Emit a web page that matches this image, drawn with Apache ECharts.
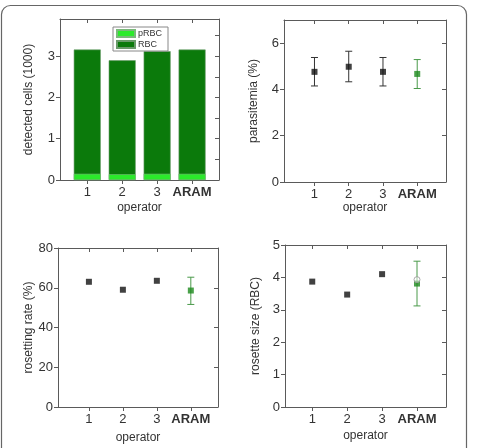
<!DOCTYPE html>
<html>
<head>
<meta charset="utf-8">
<script src="https://cdn.jsdelivr.net/npm/echarts@6/dist/echarts.min.js"></script>
<style>
  html, body { margin: 0; padding: 0; background: #fff; }
  #chart { width: 477px; height: 448px; }
</style>
</head>
<body>
<div id="chart"></div>
<script>
// categories on the x axis (drawn at x = 1..4)
const operators = ['1', '2', '3', 'ARAM'];
const opX = [1, 2, 3, 4];

// panel 1: detected cells (1000)
const pRBC = [0.15, 0.14, 0.15, 0.15];
const RBC = [3.01, 2.76, 2.97, 3.01];

// panel 2: parasitemia (%)
const parasitemia = [4.76, 4.98, 4.76, 4.67];
const parasitemiaLow = [4.15, 4.33, 4.15, 4.04];
const parasitemiaHigh = [5.38, 5.65, 5.38, 5.29];

// panel 3: rosetting rate (%)
const rosRate = [63, 59, 63.5, 58.6];
const rosRateLow = [null, null, null, 51.6];
const rosRateHigh = [null, null, null, 65.3];

// panel 4: rosette size (RBC)
const rosSize = [3.87, 3.47, 4.1, 3.81];
const rosSizeLow = [null, null, null, 3.12];
const rosSizeHigh = [null, null, null, 4.5];
const rosSizeOpen = [null, null, null, 3.93];

// tick labels
const yTicks1 = [0, 1, 2, 3];
const yMinor1 = [0, 0.5, 1, 1.5, 2, 2.5, 3, 3.5];
const yTicks2 = [0, 2, 4, 6];
const yTicks3 = [0, 20, 40, 60, 80];
const yTicks4 = [0, 1, 2, 3, 4, 5];

const FONT = 'Liberation Sans';
const LINE = '#5a5a5a';
const TXT = '#333';
const BLACK = '#111';
const GREEN = '#1d8a1d';
const ERRGREEN = '#4a9a4a';

let chart = echarts.init(document.getElementById('chart'));

let grids = [
  {left: 60, top: 19, width: 159, height: 161},
  {left: 284, top: 20, width: 162, height: 162},
  {left: 58, top: 248, width: 160, height: 159},
  {left: 285, top: 245, width: 161, height: 162}
];
let xRanges = [[0.22, 4.77], [0.11, 4.84], [0.09, 4.8], [0.22, 4.83]];
let yRanges = [[0, 3.9], [0, 7], [0, 80], [0, 5]];
let yTicks = [yTicks1, yTicks2, yTicks3, yTicks4];
let yRightTicks = [yMinor1, yTicks2, yTicks3, yTicks4];
let yNames = ['detected cells (1000)', 'parasitemia (%)', 'rosetting rate (%)', 'rosette size (RBC)'];
let yGaps = [25, 24, 22, 23];
let xGaps = [22, 17, 25, 23];

let xAxis = [];
let yAxis = [];
for (let i = 0; i < 4; i++) {
  xAxis.push({
    type: 'value', gridIndex: i, position: 'bottom',
    min: xRanges[i][0], max: xRanges[i][1],
    name: 'operator', nameLocation: 'middle', nameGap: xGaps[i],
    nameTextStyle: {color: TXT, fontFamily: FONT, fontSize: 12},
    axisLine: {show: true, onZero: false, lineStyle: {color: LINE, width: 1}},
    axisTick: {show: true, length: 4, customValues: opX, lineStyle: {color: LINE}},
    axisLabel: {
      customValues: opX, margin: 6, color: TXT, fontFamily: FONT, fontSize: 13,
      formatter: function (v) {
        let s = operators[Math.round(v) - 1];
        return s === 'ARAM' ? '{b|' + s + '}' : s;
      },
      rich: {b: {fontWeight: 'bold', fontFamily: FONT, fontSize: 13, color: TXT}}
    },
    splitLine: {show: false}
  });
  xAxis.push({
    type: 'value', gridIndex: i, position: 'top',
    min: xRanges[i][0], max: xRanges[i][1],
    axisLine: {show: true, onZero: false, lineStyle: {color: LINE, width: 1}},
    axisTick: {show: true, inside: true, length: 4, customValues: opX, lineStyle: {color: LINE}},
    axisLabel: {show: false},
    splitLine: {show: false}
  });
  yAxis.push({
    type: 'value', gridIndex: i, position: 'left',
    min: yRanges[i][0], max: yRanges[i][1],
    name: yNames[i], nameLocation: 'middle', nameGap: yGaps[i],
    nameTextStyle: {color: TXT, fontFamily: FONT, fontSize: 12},
    axisLine: {show: true, onZero: false, lineStyle: {color: LINE, width: 1}},
    axisTick: {show: true, length: 4, customValues: yTicks[i], lineStyle: {color: LINE}},
    axisLabel: {customValues: yTicks[i], margin: 5, color: TXT, fontFamily: FONT, fontSize: 13},
    splitLine: {show: false}
  });
  yAxis.push({
    type: 'value', gridIndex: i, position: 'right',
    min: yRanges[i][0], max: yRanges[i][1],
    axisLine: {show: true, onZero: false, lineStyle: {color: LINE, width: 1}},
    axisTick: {show: true, inside: true, length: 4, customValues: yRightTicks[i], lineStyle: {color: LINE}},
    axisLabel: {show: false},
    splitLine: {show: false}
  });
}

// points: black for operators, green for ARAM
function pointData(vals) {
  let res = [];
  for (let i = 0; i < vals.length; i++) {
    res.push({value: [opX[i], vals[i]], itemStyle: {color: i === 3 ? GREEN : BLACK}});
  }
  return res;
}
function errData(low, high) {
  let res = [];
  for (let i = 0; i < low.length; i++) {
    if (low[i] == null) continue;
    res.push([opX[i], low[i], high[i], i === 3 ? 1 : 0]);
  }
  return res;
}
function errSeries(panel, low, high) {
  return {
    type: 'custom',
    xAxisIndex: panel * 2, yAxisIndex: panel * 2,
    data: errData(low, high),
    encode: {x: 0, y: [1, 2]},
    z: 3,
    renderItem: function (params, api) {
      let x = api.value(0);
      let lo = api.coord([x, api.value(1)]);
      let hi = api.coord([x, api.value(2)]);
      let color = api.value(3) === 1 ? ERRGREEN : '#333';
      let w = 3.5;
      let style = {stroke: color, lineWidth: 1};
      return {
        type: 'group',
        children: [
          {type: 'line', shape: {x1: lo[0], y1: lo[1], x2: hi[0], y2: hi[1]}, style: style},
          {type: 'line', shape: {x1: lo[0] - w, y1: lo[1], x2: lo[0] + w, y2: lo[1]}, style: style},
          {type: 'line', shape: {x1: hi[0] - w, y1: hi[1], x2: hi[0] + w, y2: hi[1]}, style: style}
        ]
      };
    }
  };
}
function pointSeries(panel, vals) {
  return {
    type: 'scatter',
    xAxisIndex: panel * 2, yAxisIndex: panel * 2,
    symbol: 'rect', symbolSize: 6, z: 4,
    data: pointData(vals)
  };
}

let openPts = [];
for (let i = 0; i < rosSizeOpen.length; i++) {
  if (rosSizeOpen[i] != null) openPts.push([opX[i], rosSizeOpen[i]]);
}

// the dark bar reaches pRBC + RBC, the pRBC bar is laid over its foot
let totals = RBC.map((v, i) => [opX[i], +(v + pRBC[i]).toFixed(3)]);

let option = {
  animation: false,
  backgroundColor: '#fff',
  textStyle: {fontFamily: FONT},
  graphic: [{
    type: 'rect', z: 0,
    shape: {x: 1.5, y: 5.5, width: 465, height: 470, r: 9},
    style: {fill: 'none', stroke: '#666', lineWidth: 1.2}
  }],
  legend: {
    data: ['pRBC', 'RBC'],
    orient: 'vertical',
    left: 113, top: 27,
    itemWidth: 18, itemHeight: 7, itemGap: 2,
    padding: [2, 6, 2, 3],
    borderColor: '#888', borderWidth: 1,
    icon: 'rect',
    textStyle: {fontSize: 9, color: TXT, fontFamily: FONT, padding: [0, 0, 0, -2]}
  },
  grid: grids,
  xAxis: xAxis,
  yAxis: yAxis,
  series: [
    {
      name: 'RBC', type: 'bar',
      xAxisIndex: 0, yAxisIndex: 0, barWidth: 27, barGap: '-100%', z: 2,
      itemStyle: {color: '#0b7a0b', borderColor: '#6a9a6a', borderWidth: 0.6},
      data: totals
    },
    {
      name: 'pRBC', type: 'bar',
      xAxisIndex: 0, yAxisIndex: 0, barWidth: 27, barGap: '-100%', z: 3,
      itemStyle: {color: '#2bea2b', borderColor: '#7ab87a', borderWidth: 0.6},
      data: pRBC.map((v, i) => [opX[i], v])
    },
    errSeries(1, parasitemiaLow, parasitemiaHigh),
    pointSeries(1, parasitemia),
    errSeries(2, rosRateLow, rosRateHigh),
    pointSeries(2, rosRate),
    errSeries(3, rosSizeLow, rosSizeHigh),
    {
      type: 'scatter', xAxisIndex: 6, yAxisIndex: 6,
      symbol: 'circle', symbolSize: 6, z: 5,
      itemStyle: {color: 'rgba(255,255,255,0.6)', borderColor: '#999', borderWidth: 1},
      data: openPts
    },
    pointSeries(3, rosSize)
  ]
};
chart.setOption(option);
</script>
</body>
</html>
